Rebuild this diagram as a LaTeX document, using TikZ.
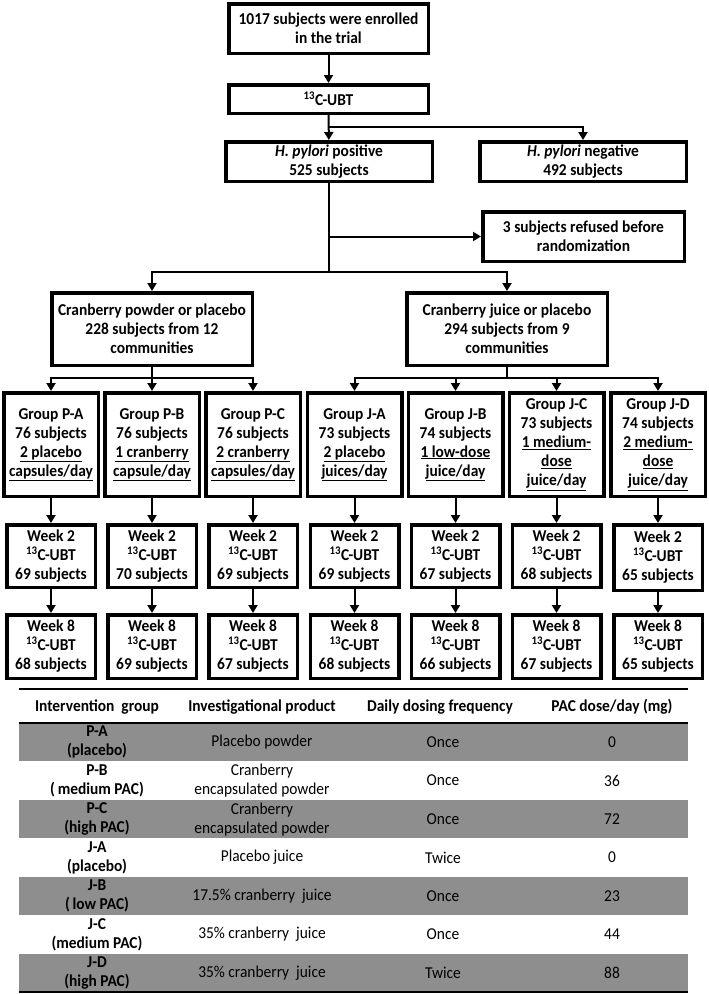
\documentclass[tikz,border=0pt]{standalone}
\usepackage{fontspec}
\setmainfont{Carlito}
\newfontfamily\tallfont{Carlito}[FakeStretch=0.93]
\usetikzlibrary{arrows.meta}
\definecolor{tblgray}{RGB}{142,142,142}
\begin{document}
\begin{tikzpicture}[x=1pt,y=-1pt,
  box/.style={draw, line width=3.5pt, align=center, inner sep=1pt,
    font=\tallfont\bfseries\fontsize{16.6}{19}\selectfont},
  grp/.style={box, minimum width=94.5pt, minimum height=103.5pt},
  wk/.style={box, minimum width=88.5pt, minimum height=62.5pt},
  conn/.style={line width=2pt},
  arr/.style={conn, -{Triangle[length=8pt,width=9pt]}},
  hd/.style={font=\tallfont\bfseries\fontsize{16.6}{19}\selectfont, align=center, inner sep=0pt},
  cella/.style={font=\tallfont\bfseries\fontsize{16.6}{19}\selectfont, align=center, inner sep=0pt},
  cellb/.style={font=\tallfont\fontsize{16.6}{19}\selectfont, align=center, inner sep=0pt}]
\useasboundingbox (0,0) rectangle (709,994);

% top chain
\node[box, minimum width=199.5pt, minimum height=49.5pt] (enr) at (328.5,28.5) {1017 subjects were enrolled\\in the trial};
\node[box, minimum width=199.5pt, minimum height=28.5pt] (ubt) at (328.5,99) {\textsuperscript{13}C-UBT};
\node[box, minimum width=206.5pt, minimum height=39.5pt] (pos) at (329,161.5) {\textit{H. pylori} positive\\525 subjects};
\node[box, minimum width=206.5pt, minimum height=39.5pt] (neg) at (583,161.5) {\textit{H. pylori} negative\\492 subjects};
\node[box, minimum width=201.5pt, minimum height=49.5pt] (ref) at (583.5,236.5) {3 subjects refused before\\randomization};
\node[box, minimum width=200.5pt, minimum height=72.5pt] (pow) at (152,329) {Cranberry powder or placebo\\228 subjects from 12\\communities};
\node[box, minimum width=200.5pt, minimum height=72.5pt] (jui) at (507,329) {Cranberry juice or placebo\\294 subjects from 9\\communities};

\draw[arr] (enr) -- (ubt);
\coordinate (b1) at (328.5,127);
\draw[arr] (ubt) -- (pos);
\draw[arr] (b1) -| (neg.north);
\coordinate (b2) at (329,236.5);
\coordinate (b3) at (329,272);
\draw[conn] (pos) -- (b3);
\draw[arr] (b2) -- (ref.west);
\draw[arr] (b3) -| (pow.north);
\draw[arr] (b3) -| (jui.north);

% groups
\node[grp] (pa) at (51,444.5) {Group P-A\\76 subjects\\\underline{2 placebo}\\\underline{capsules/day}};
\node[grp] (pb) at (152,444.5) {Group P-B\\76 subjects\\\underline{1 cranberry}\\\underline{capsule/day}};
\node[grp] (pc) at (253,444.5) {Group P-C\\76 subjects\\\underline{2 cranberry}\\\underline{capsules/day}};
\node[grp] (ja) at (354.5,444.5) {Group J-A\\73 subjects\\\underline{2 placebo}\\\underline{juices/day}};
\node[grp] (jb) at (455.5,444.5) {Group J-B\\74 subjects\\\underline{1 low-dose}\\\underline{juice/day}};
\node[grp] (jc) at (556.5,444.5) {Group J-C\\73 subjects\\\underline{1 medium-}\\\underline{dose}\\\underline{juice/day}};
\node[grp] (jd) at (658,444.5) {Group J-D\\74 subjects\\\underline{2 medium-}\\\underline{dose}\\\underline{juice/day}};

\coordinate (b4) at (152,378);
\draw[conn] (pow) -- (b4);
\draw[arr] (b4) -| (pa.north);
\draw[arr] (b4) -- (pb.north);
\draw[arr] (b4) -| (pc.north);
\coordinate (b5) at (507,378);
\draw[conn] (jui) -- (b5);
\draw[arr] (b5) -| (ja.north);
\draw[arr] (b5) -| (jb.north);
\draw[arr] (b5) -| (jc.north);
\draw[arr] (b5) -| (jd.north);

% week 2
\node[wk] (pa2) at (51,556) {Week 2\\\textsuperscript{13}C-UBT\\69 subjects};
\node[wk] (pb2) at (152,556) {Week 2\\\textsuperscript{13}C-UBT\\70 subjects};
\node[wk] (pc2) at (253,556) {Week 2\\\textsuperscript{13}C-UBT\\69 subjects};
\node[wk] (ja2) at (354.5,556) {Week 2\\\textsuperscript{13}C-UBT\\69 subjects};
\node[wk] (jb2) at (455.5,556) {Week 2\\\textsuperscript{13}C-UBT\\67 subjects};
\node[wk] (jc2) at (556.5,556) {Week 2\\\textsuperscript{13}C-UBT\\68 subjects};
\node[wk, minimum height=65.5pt] (jd2) at (658,557.5) {Week 2\\\textsuperscript{13}C-UBT\\65 subjects};

% week 8
\node[wk, minimum height=63.5pt] (pa8) at (51,646.5) {Week 8\\\textsuperscript{13}C-UBT\\68 subjects};
\node[wk, minimum height=63.5pt] (pb8) at (152,646.5) {Week 8\\\textsuperscript{13}C-UBT\\69 subjects};
\node[wk, minimum height=63.5pt] (pc8) at (253,646.5) {Week 8\\\textsuperscript{13}C-UBT\\67 subjects};
\node[wk, minimum height=63.5pt] (ja8) at (354.5,646.5) {Week 8\\\textsuperscript{13}C-UBT\\68 subjects};
\node[wk, minimum height=63.5pt] (jb8) at (455.5,646.5) {Week 8\\\textsuperscript{13}C-UBT\\66 subjects};
\node[wk, minimum height=63.5pt] (jc8) at (556.5,646.5) {Week 8\\\textsuperscript{13}C-UBT\\67 subjects};
\node[wk, minimum height=63.5pt] (jd8) at (658,646.5) {Week 8\\\textsuperscript{13}C-UBT\\65 subjects};

\foreach \g in {pa,pb,pc,ja,jb,jc,jd}{
  \draw[arr] (\g) -- (\g2);
  \draw[arr] (\g2) -- (\g8);
}

% table
\foreach \i in {0,2,4,6}{
  \fill[tblgray] (19,{723+38.43*\i}) rectangle (688,{723+38.43*(\i+1)});
}
\draw[line width=1.6pt] (19,689) -- (688,689);
\draw[line width=1.6pt] (19,723) -- (688,723);
\draw[line width=2.6pt] (19,992) -- (688,992);

\node[hd] (h1) at (97,707) {Intervention\ \ group};
\node[hd] (h2) at (262,707) {Investigational product};
\node[hd] (h3) at (440,707) {Daily dosing frequency};
\node[hd] (h4) at (612,707) {PAC dose/day (mg)};

\node[cella] (r1a) at (97,742.2) {P-A\\(placebo)};
\node[cellb] (r1b) at (262,742.2) {Placebo powder};
\node[cellb] (r1c) at (443,742.2) {Once};
\node[cellb] (r1d) at (612,742.2) {0};

\node[cella] (r2a) at (97,780.6) {P-B\\(\,medium PAC)};
\node[cellb] (r2b) at (262,780.6) {Cranberry\\encapsulated powder};
\node[cellb] (r2c) at (443,780.6) {Once};
\node[cellb] (r2d) at (612,780.6) {36};

\node[cella] (r3a) at (97,819.1) {P-C\\(high PAC)};
\node[cellb] (r3b) at (262,819.1) {Cranberry\\encapsulated powder};
\node[cellb] (r3c) at (443,819.1) {Once};
\node[cellb] (r3d) at (612,819.1) {72};

\node[cella] (r4a) at (97,857.5) {J-A\\(placebo)};
\node[cellb] (r4b) at (262,857.5) {Placebo juice};
\node[cellb] (r4c) at (443,857.5) {Twice};
\node[cellb] (r4d) at (612,857.5) {0};

\node[cella] (r5a) at (97,895.9) {J-B\\(\,low PAC)};
\node[cellb] (r5b) at (262,895.9) {17.5\% cranberry\ \ juice};
\node[cellb] (r5c) at (443,895.9) {Once};
\node[cellb] (r5d) at (612,895.9) {23};

\node[cella] (r6a) at (97,934.4) {J-C\\(medium PAC)};
\node[cellb] (r6b) at (262,934.4) {35\% cranberry\ \ juice};
\node[cellb] (r6c) at (443,934.4) {Once};
\node[cellb] (r6d) at (612,934.4) {44};

\node[cella] (r7a) at (97,972.8) {J-D\\(high PAC)};
\node[cellb] (r7b) at (262,972.8) {35\% cranberry\ \ juice};
\node[cellb] (r7c) at (443,972.8) {Twice};
\node[cellb] (r7d) at (612,972.8) {88};
\end{tikzpicture}
\end{document}
